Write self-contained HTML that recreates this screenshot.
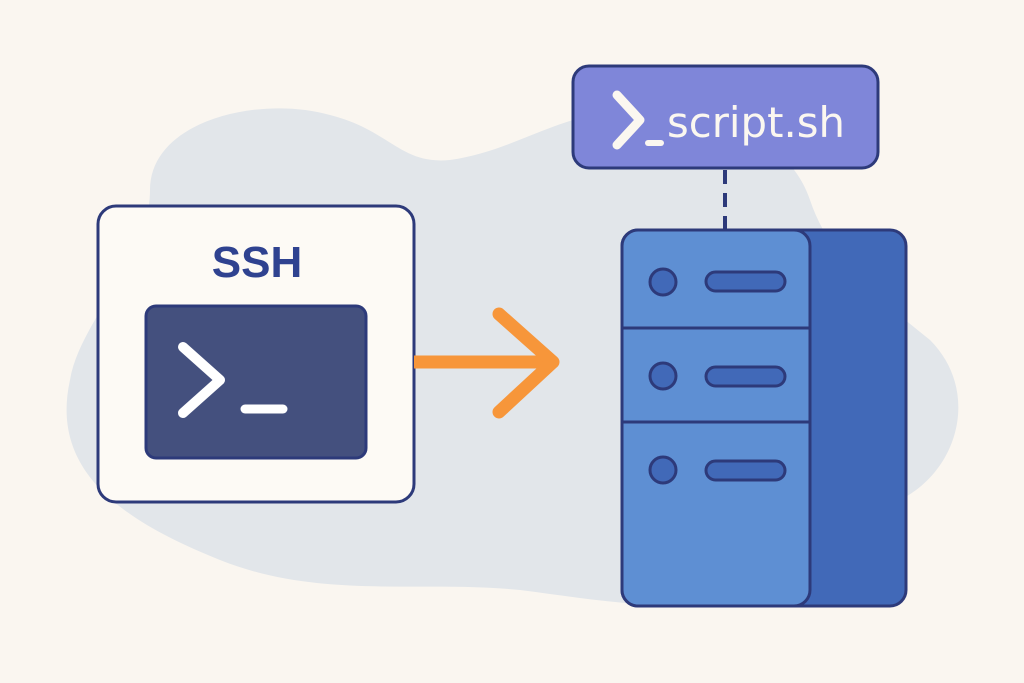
<!DOCTYPE html>
<html><head><style>html,body{margin:0;padding:0;background:#faf6f0}svg{display:block}</style></head>
<body>
<svg width="1024" height="683" viewBox="0 0 1024 683" xmlns="http://www.w3.org/2000/svg">
<rect width="1024" height="683" fill="#faf6f0"/>
<path d="M150,190 C150,120 260,95 330,115 C390,130 400,165 450,160 C520,150 560,110 640,110 C720,110 790,140 810,200 C830,260 880,300 930,340 C980,390 960,470 900,500 C840,530 800,560 760,585 C700,620 600,600 520,590 C420,580 320,600 220,560 C120,520 50,470 70,380 C80,320 150,260 150,190 Z" fill="#e2e6ea"/>
<rect x="98" y="206" width="316" height="296" rx="18" fill="#fdfaf5" stroke="#2d3a7a" stroke-width="3"/>
<text x="257" y="277" text-anchor="middle" font-family="Liberation Sans, sans-serif" font-weight="bold" font-size="44" fill="#2f4290">SSH</text>
<rect x="146" y="306" width="220" height="152" rx="10" fill="#44507e" stroke="#2d3a7a" stroke-width="3"/>
<polyline points="183,347 220,380 183,413" fill="none" stroke="#fff" stroke-width="10" stroke-linecap="round" stroke-linejoin="round"/>
<line x1="245" y1="409" x2="283" y2="409" stroke="#fff" stroke-width="9" stroke-linecap="round"/>
<line x1="414" y1="362" x2="552" y2="362" stroke="#f7963a" stroke-width="13"/>
<polyline points="499,314 553,362 499,412" fill="none" stroke="#f7963a" stroke-width="13" stroke-linecap="round" stroke-linejoin="round"/>
<line x1="725" y1="170" x2="725" y2="232" stroke="#2d3a7a" stroke-width="4" stroke-dasharray="14,9"/>
<rect x="622" y="230" width="284" height="376" rx="16" fill="#4169b8" stroke="#2d3a7a" stroke-width="3"/>
<rect x="622" y="230" width="188" height="376" rx="16" fill="#5e8fd3" stroke="#2d3a7a" stroke-width="3"/>
<line x1="622" y1="328" x2="810" y2="328" stroke="#2d3a7a" stroke-width="3"/>
<line x1="622" y1="422" x2="810" y2="422" stroke="#2d3a7a" stroke-width="3"/>
<g fill="#4169b8" stroke="#2d3a7a" stroke-width="3">
<circle cx="663" cy="282" r="13"/><circle cx="663" cy="376" r="13"/><circle cx="663" cy="470" r="13"/>
<rect x="706" y="272" width="79" height="19" rx="9.5"/><rect x="706" y="367" width="79" height="19" rx="9.5"/><rect x="706" y="461" width="79" height="19" rx="9.5"/>
</g>
<rect x="573" y="66" width="305" height="102" rx="16" fill="#7f86d9" stroke="#2d3a7a" stroke-width="3"/>
<polyline points="617,95 640,120 617,145" fill="none" stroke="#fbf7f0" stroke-width="9" stroke-linecap="round" stroke-linejoin="round"/>
<line x1="648" y1="143" x2="661" y2="143" stroke="#fbf7f0" stroke-width="6" stroke-linecap="round"/>
<text x="667" y="137" font-family="DejaVu Sans, Liberation Sans, sans-serif" font-size="42" fill="#fbf7f0" textLength="178" lengthAdjust="spacingAndGlyphs">script.sh</text>
</svg>
</body></html>
